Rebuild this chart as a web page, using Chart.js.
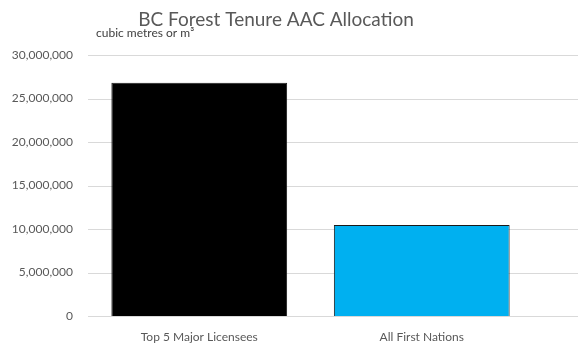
<!DOCTYPE html>
<html>
<head>
<meta charset="utf-8">
<script src="https://cdn.jsdelivr.net/npm/chart.js@4/dist/chart.umd.min.js"></script>
<style>
  body { margin: 0; background: #fff; }
  #chart { display: block; }
</style>
</head>
<body>
<canvas id="chart" width="578" height="345"></canvas>
<script>
const categories = ['Top 5 Major Licensees', 'All First Nations'];
const allocation = [26800000, 10450000];
const barColors = ['#000000', '#00B0F0'];
const yTicks = [0, 5000000, 10000000, 15000000, 20000000, 25000000, 30000000];

const fontFamily = 'Lato, "Open Sans", sans-serif';

// title, unit note and gridlines that run out to the right edge
const decorations = {
    id: 'decorations',
    beforeDatasetsDraw(chart) {
        const ctx = chart.ctx;
        const y = chart.scales.y;
        ctx.save();
        ctx.strokeStyle = '#d9d9d9';
        ctx.lineWidth = 1;
        yTicks.forEach(v => {
            const py = Math.round(y.getPixelForValue(v)) + 0.5;
            ctx.beginPath();
            ctx.moveTo(chart.chartArea.left, py);
            ctx.lineTo(chart.width, py);
            ctx.stroke();
        });
        ctx.restore();
    },
    afterDraw(chart) {
        const ctx = chart.ctx;
        ctx.save();
        ctx.fillStyle = '#595959';
        ctx.font = '19px ' + fontFamily;
        ctx.textAlign = 'center';
        ctx.textBaseline = 'middle';
        ctx.fillText('BC Forest Tenure AAC Allocation', 276, 20);
        ctx.fillStyle = '#404040';
        ctx.font = '12px ' + fontFamily;
        ctx.textAlign = 'left';
        ctx.fillText('cubic metres or m\u00B3', 96, 33);
        ctx.restore();
    }
};

new Chart(document.getElementById('chart'), {
    type: 'bar',
    data: {
        labels: categories,
        datasets: [{
            data: allocation,
            backgroundColor: barColors,
            borderColor: '#1a1a1a',
            borderWidth: 1,
            barPercentage: 0.79,
            categoryPercentage: 1
        }]
    },
    options: {
        responsive: false,
        animation: false,
        layout: { padding: { top: 55, right: 45, bottom: 0, left: 0 } },
        plugins: {
            legend: { display: false },
            title: { display: false },
            tooltip: { enabled: false }
        },
        scales: {
            x: {
                afterFit(scale) { scale.height = 29; },
                grid: { display: false, drawTicks: false },
                border: { display: false },
                ticks: {
                    color: '#595959',
                    padding: 14,
                    font: { family: fontFamily, size: 12 }
                }
            },
            y: {
                min: 0,
                max: 30000000,
                afterFit(scale) { scale.width = 88; },
                grid: { display: false, drawTicks: false },
                border: { display: false },
                ticks: {
                    stepSize: 5000000,
                    padding: 15,
                    color: '#595959',
                    font: { family: fontFamily, size: 12 },
                    callback: v => v.toLocaleString('en-US')
                }
            }
        }
    },
    plugins: [decorations]
});
</script>
</body>
</html>
